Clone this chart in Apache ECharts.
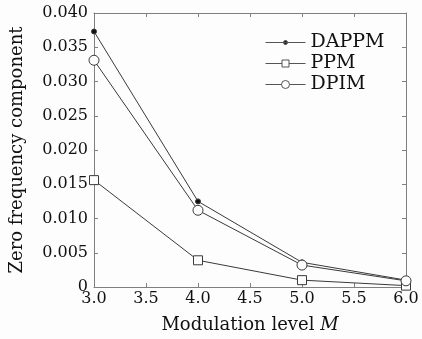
<!DOCTYPE html>
<html>
<head>
<meta charset="utf-8">
<script src="https://cdn.jsdelivr.net/npm/echarts@6/dist/echarts.min.js"></script>
<style>
  html, body { margin: 0; padding: 0; background: #fdfdfd; }
  #chart { width: 422px; height: 339px; }
</style>
</head>
<body>
<div id="chart"></div>
<script>
const levels = [3, 4, 5, 6];
const dappm = [0.0373, 0.0125, 0.0036, 0.0010];
const ppm = [0.0156, 0.0039, 0.0010, 0.0002];
const dpim = [0.0331, 0.0112, 0.0032, 0.0009];
const names = ["DAPPM", "PPM", "DPIM"];

const font = "DejaVu Serif";
const lineColor = "#3a3a3a";
const frameColor = "#808080";

const pairs = (ys) => levels.map((x, i) => [x, ys[i]]);

// legend icons: line with a marker in the middle, in a 40x14 box
const box = "M0 0 M40 14 ";
const icons = {
    DAPPM: box + "M0 7 L40 7 M18 7 A2 2 0 1 0 22 7 A2 2 0 1 0 18 7 Z",
    PPM: box + "M0 7 L16.5 7 M23.5 7 L40 7 M16.5 3.5 L23.5 3.5 L23.5 10.5 L16.5 10.5 Z",
    DPIM: box + "M0 7 L16 7 M24 7 L40 7 M16 7 A4 4 0 1 0 24 7 A4 4 0 1 0 16 7 Z",
};

const chart = echarts.init(document.getElementById("chart"));

const xBase = {
    type: "value",
    min: 3,
    max: 6,
    interval: 0.5,
    axisLine: { show: true, onZero: false, lineStyle: { color: frameColor, width: 1 } },
    axisTick: { show: true, inside: true, length: 4, lineStyle: { color: frameColor } },
    splitLine: { show: false },
};
const yBase = {
    type: "value",
    min: 0,
    max: 0.04,
    interval: 0.005,
    axisLine: { show: true, onZero: false, lineStyle: { color: frameColor, width: 1 } },
    axisTick: { show: true, inside: true, length: 4, lineStyle: { color: frameColor } },
    splitLine: { show: false },
};

const lineSeries = (name, ys, symbol, size, fill) => ({
    name: name,
    type: "line",
    data: pairs(ys),
    symbol: symbol,
    symbolSize: size,
    showAllSymbol: true,
    lineStyle: { color: lineColor, width: 1 },
    itemStyle: { color: fill, borderColor: lineColor, borderWidth: 1 },
    emphasis: { disabled: true },
    z: 3,
});

chart.setOption({
    backgroundColor: "#fdfdfd",
    animation: false,
    textStyle: { fontFamily: font },
    grid: { left: 92, right: 16, top: 13, bottom: 52 },
    legend: {
        orient: "vertical",
        left: 260,
        top: 28,
        itemWidth: 40,
        itemHeight: 14,
        itemGap: 2,
        itemStyle: { borderWidth: 1, borderColor: "#555" },
        textStyle: { fontFamily: font, fontSize: 19, color: "#111", lineHeight: 19 },
        data: names.map((n) => ({ name: n, icon: "path://" + icons[n] })),
    },
    xAxis: [
        Object.assign({}, xBase, {
            position: "bottom",
            name: "{n|Modulation level }{i|M}",
            nameLocation: "middle",
            nameGap: 29,
            nameTextStyle: {
                rich: {
                    n: { fontFamily: font, fontSize: 18, color: "#111" },
                    i: { fontFamily: font, fontSize: 18, fontStyle: "italic", color: "#111" },
                },
            },
            axisLabel: {
                fontFamily: font, fontSize: 16, color: "#111", margin: 4,
                formatter: (v) => v.toFixed(1),
            },
        }),
        Object.assign({}, xBase, { position: "top", axisLabel: { show: false } }),
    ],
    yAxis: [
        Object.assign({}, yBase, {
            position: "left",
            name: "Zero frequency component",
            nameLocation: "middle",
            nameGap: 68,
            nameTextStyle: { fontFamily: font, fontSize: 18, color: "#111" },
            axisLabel: {
                fontFamily: font, fontSize: 16, color: "#111", margin: 6,
                formatter: (v) => (v === 0 ? "0" : v.toFixed(3)),
            },
        }),
        Object.assign({}, yBase, { position: "right", axisLabel: { show: false } }),
    ],
    series: [
        lineSeries("DAPPM", dappm, "circle", 5, "#111"),
        lineSeries("PPM", ppm, "rect", 9, "#fdfdfd"),
        lineSeries("DPIM", dpim, "circle", 10, "#fdfdfd"),
    ],
});
</script>
</body>
</html>
